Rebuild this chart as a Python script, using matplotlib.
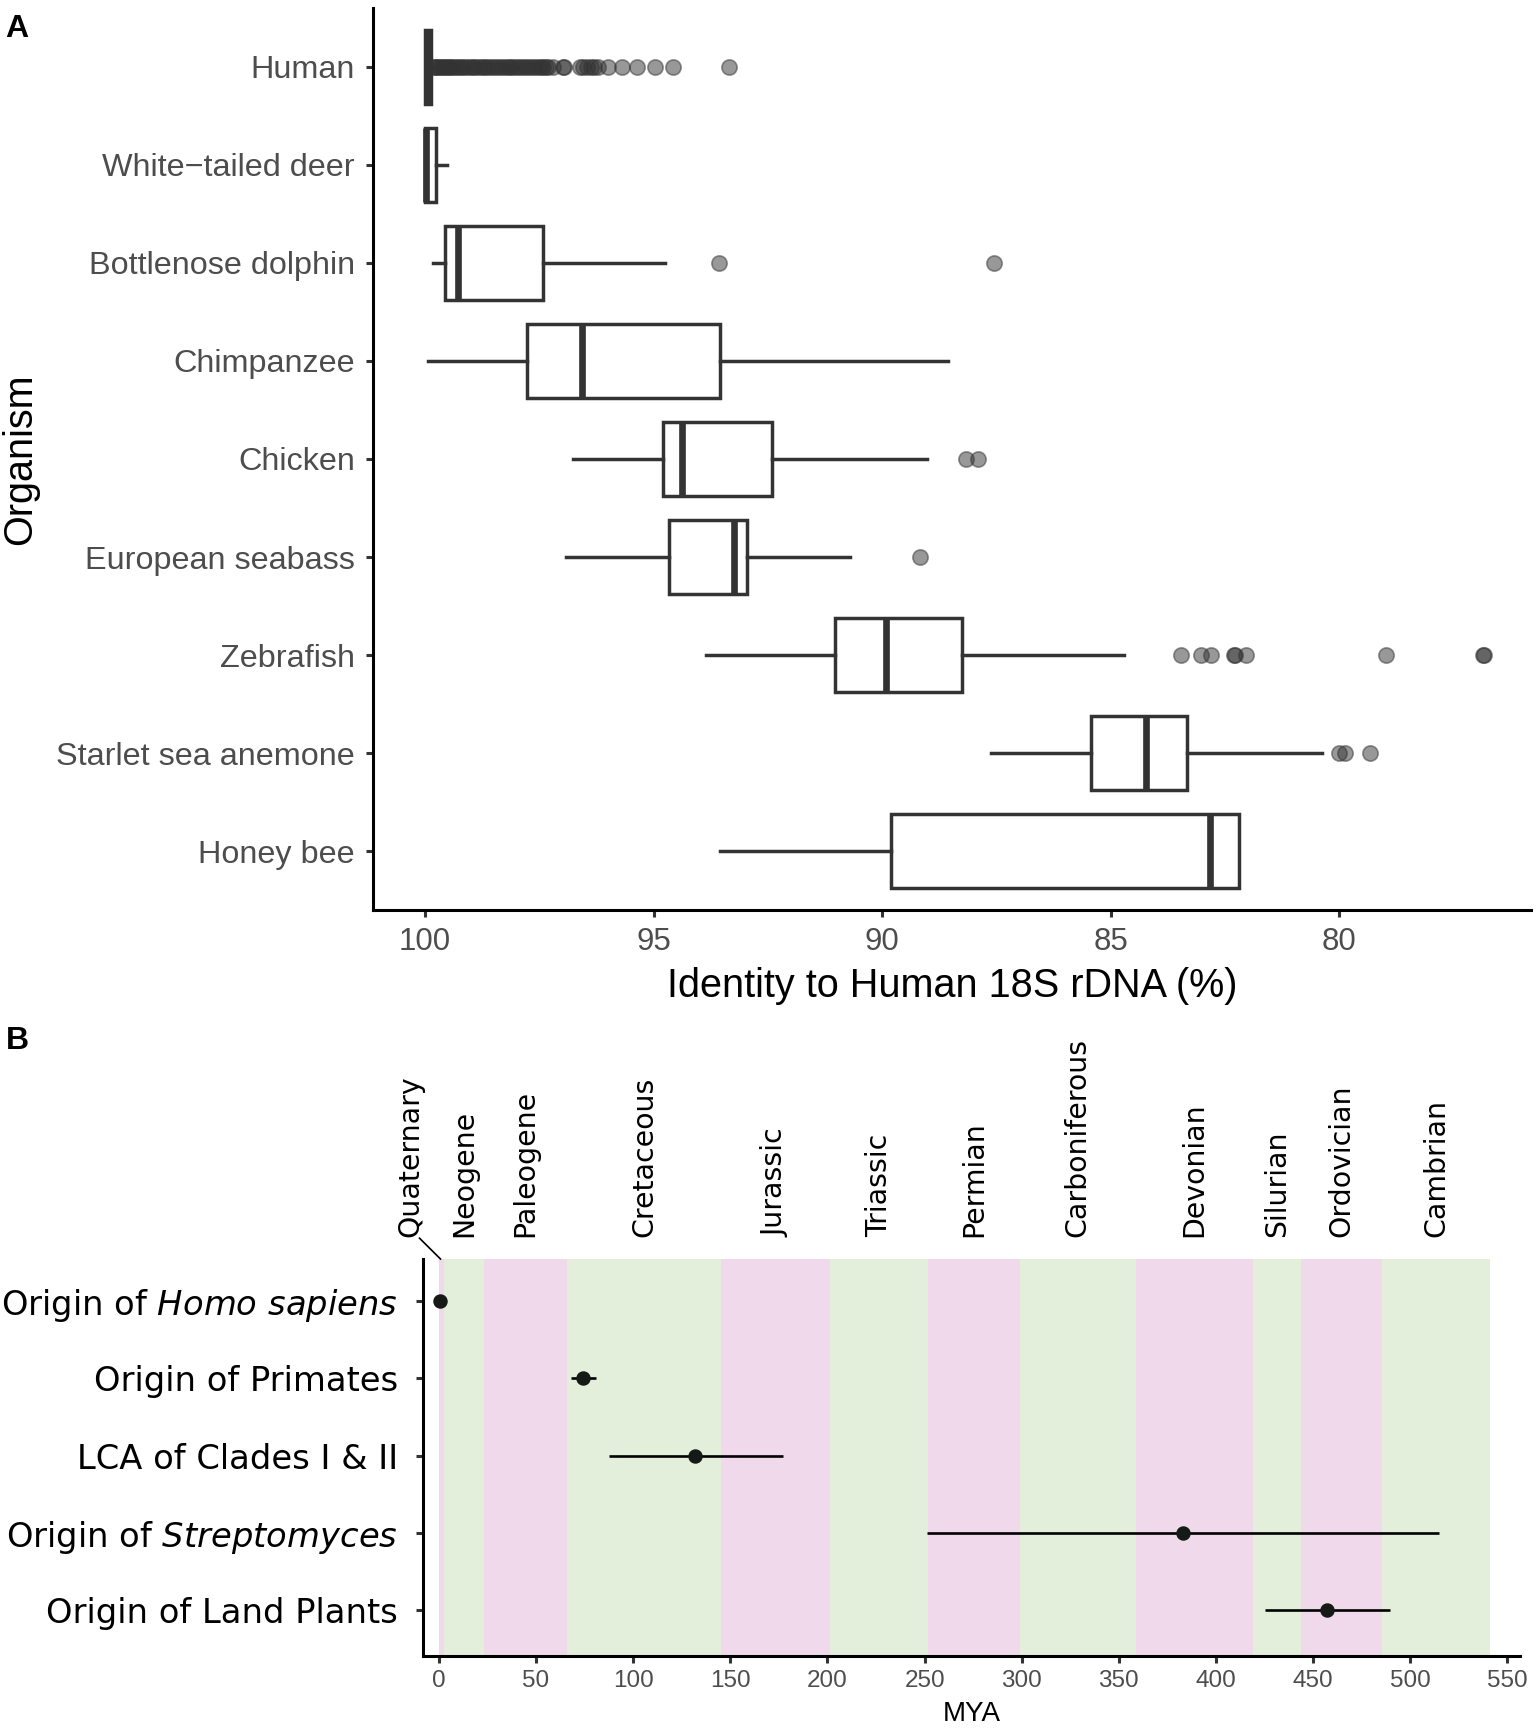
import matplotlib
matplotlib.use("Agg")
import matplotlib.pyplot as plt
import matplotlib.transforms as mtransforms
import numpy as np

# ---- panel A data: identity to human 18S rDNA (%) ----
organisms = ["Human", "White\u2212tailed deer", "Bottlenose dolphin", "Chimpanzee",
             "Chicken", "European seabass", "Zebrafish", "Starlet sea anemone", "Honey bee"]
whis_hi = [100.0, 100.0, 99.83, 99.94, 96.77, 96.91, 93.86, 87.61, 93.54]
q3 = [100.0, 100.0, 99.56, 97.78, 94.79, 94.66, 91.02, 85.43, 89.81]
med = [99.95, 99.97, 99.29, 96.56, 94.37, 93.23, 89.91, 84.23, 82.83]
q1 = [99.88, 99.76, 97.42, 93.55, 92.40, 92.95, 88.26, 83.32, 82.19]
whis_lo = [99.83, 99.53, 94.74, 88.56, 89.02, 90.71, 84.71, 80.37, 82.19]
outliers = [
    [99.81, 99.78, 99.74, 99.70, 99.66, 99.61, 99.57, 99.52, 99.48, 99.43, 99.39,
     99.33, 99.28, 99.22, 99.17, 99.11, 99.05, 98.98, 98.93, 98.86, 98.80, 98.74,
     98.69, 98.62, 98.55, 98.49, 98.43, 98.36, 98.30, 98.24, 98.17, 98.11, 98.05,
     97.98, 97.92, 97.85, 97.79, 97.72, 97.66, 97.60, 97.53, 97.47, 97.41, 97.35,
     97.30, 97.20, 96.98, 96.95, 96.62, 96.55, 96.45, 96.38, 96.30, 96.22, 96.00,
     95.70, 95.36, 94.96, 94.57, 93.35],
    [],
    [93.56, 87.56],
    [],
    [88.16, 87.91],
    [89.18],
    [83.45, 83.03, 82.81, 82.30, 82.28, 82.03, 78.97, 76.84, 76.82],
    [80.00, 79.88, 79.33],
    [],
]
a_ticks = [100, 95, 90, 85, 80]

# ---- panel B data: divergence times (MYA) ----
events = ["Origin of $\\mathit{Homo\\ sapiens}$", "Origin of Primates",
          "LCA of Clades I & II", "Origin of $\\mathit{Streptomyces}$",
          "Origin of Land Plants"]
est = [0.3, 74, 132, 383, 457]
lo = [0.2, 68, 87.5, 251, 425]
hi = [0.35, 81, 177, 515, 489.5]

periods = ["Quaternary", "Neogene", "Paleogene", "Cretaceous", "Jurassic", "Triassic",
           "Permian", "Carboniferous", "Devonian", "Silurian", "Ordovician", "Cambrian"]
p_start = [0, 2.58, 23.03, 66, 145, 201.3, 251.9, 298.9, 358.9, 419.2, 443.8, 485.4]
p_end = [2.58, 23.03, 66, 145, 201.3, 251.9, 298.9, 358.9, 419.2, 443.8, 485.4, 541]
b_ticks = list(range(0, 551, 50))

W, H = 1538, 1729
fig = plt.figure(figsize=(W / 100, H / 100), dpi=100)

HELV = "Liberation Sans"
DJV = "DejaVu Sans"
plt.rcParams["mathtext.fontset"] = "dejavusans"
GREY = "#4D4D4D"
DARK = "#333333"

# ================= panel A =================
axA = fig.add_axes([373 / W, 1 - 910 / H, (1531 - 373) / W, (910 - 8) / H])
stats = []
for i in range(len(organisms)):
    stats.append(dict(med=med[i], q1=q1[i], q3=q3[i], whislo=whis_lo[i],
                      whishi=whis_hi[i], fliers=outliers[i]))
pos = np.arange(1, len(organisms) + 1)
axA.bxp(stats, positions=pos, vert=False, widths=0.75, showcaps=False,
        patch_artist=True,
        boxprops=dict(facecolor="white", edgecolor=DARK, linewidth=2.5),
        medianprops=dict(color=DARK, linewidth=4.8, solid_capstyle="butt"),
        whiskerprops=dict(color=DARK, linewidth=2.5),
        flierprops=dict(marker="o", markersize=11, markerfacecolor=DARK,
                        markeredgecolor=DARK, markeredgewidth=1.2, alpha=0.5,
                        linestyle="none"))
axA.set_xlim(101.14, 75.80)
axA.set_ylim(9.6, 0.4)
axA.set_xticks(a_ticks)
axA.set_xticklabels([str(t) for t in a_ticks], fontsize=22.5, color=GREY, family=HELV)
axA.set_yticks(pos)
axA.set_yticklabels(organisms, fontsize=23.3, color=GREY, family=HELV)
for s in ["top", "right"]:
    axA.spines[s].set_visible(False)
for s in ["left", "bottom"]:
    axA.spines[s].set_linewidth(2.2)
axA.tick_params(axis="both", length=5, width=2.2, color=DARK)
axA.tick_params(axis="y", pad=8)
axA.tick_params(axis="x", pad=7)

fig.text(952 / W, 1 - 986 / H, "Identity to Human 18S rDNA (%)", fontsize=28.5,
         family=HELV, ha="center", va="center")
fig.text(20 / W, 1 - 459 / H, "Organism", fontsize=28.5, family=HELV,
         rotation=90, ha="center", va="center")
fig.text(5 / W, 1 - 14 / H, "A", fontsize=23, fontweight="bold", family=HELV,
         ha="left", va="top")

# ================= panel B =================
axB = fig.add_axes([423 / W, 1 - 1656 / H, (1520 - 423) / W, (1656 - 1259) / H])
pink, green = "#EFD9EB", "#E3EFDA"
for k in range(len(periods)):
    axB.axvspan(p_start[k], p_end[k], color=pink if k % 2 == 0 else green,
                lw=0, zorder=0)

ypos = np.arange(1, len(events) + 1)
xerr = [np.array(est) - np.array(lo), np.array(hi) - np.array(est)]
axB.errorbar(est, ypos, xerr=xerr, fmt="o", color="#161a16", ecolor="black",
             elinewidth=1.9, capsize=0, markersize=9.4, zorder=3)
axB.set_xlim(-8.2, 556.5)
axB.set_ylim(5.6, 0.45)
axB.set_xticks(b_ticks)
axB.set_xticklabels([str(t) for t in b_ticks], fontsize=17.5, color=GREY, family=HELV)
axB.set_yticks(ypos)
axB.set_yticklabels(events, fontsize=24.3, color="black", family=DJV)
for s in ["top", "right"]:
    axB.spines[s].set_visible(False)
for s in ["left", "bottom"]:
    axB.spines[s].set_linewidth(2.2)
axB.tick_params(axis="both", length=5, width=2.2, color=DARK)
axB.tick_params(axis="y", pad=13)
axB.tick_params(axis="x", pad=5)

# period names above the bands
trans = mtransforms.blended_transform_factory(axB.transData, axB.transAxes)
ytxt = 1 + (1259 - 1237) / (1656 - 1259)
for k, name in enumerate(periods):
    xm = (p_start[k] + p_end[k]) / 2
    if k == 0:
        xm = -14.5
        axB.plot([-10, 0.8], [ytxt - 0.003, 1.0], color="black", lw=1.2,
                 transform=trans, clip_on=False)
    axB.text(xm, ytxt, name, rotation=90, ha="center", va="bottom", fontsize=20.4,
             family=DJV, transform=trans, clip_on=False)

fig.text(972 / W, 1 - 1714 / H, "MYA", fontsize=20, family=HELV,
         ha="center", va="center")
fig.text(6 / W, 1 - 1026 / H, "B", fontsize=23, fontweight="bold", family=HELV,
         ha="left", va="top")

fig.savefig("out.png", dpi=100)
